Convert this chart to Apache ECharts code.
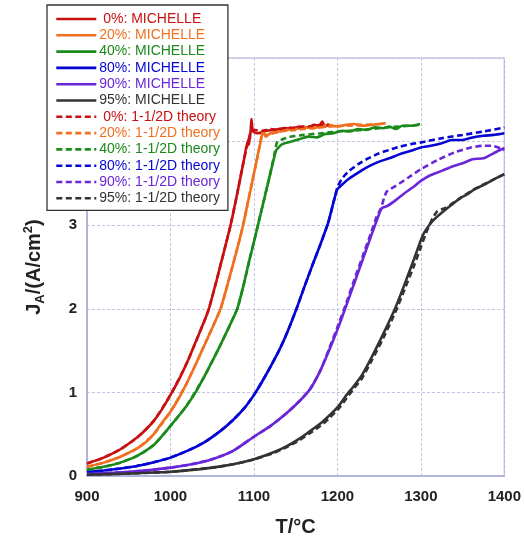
<!DOCTYPE html>
<html>
<head>
<meta charset="utf-8">
<script src="https://cdn.jsdelivr.net/npm/echarts@6/dist/echarts.min.js"></script>
<style>
html,body{margin:0;padding:0;background:#fff;}
#chart{width:524px;height:542px;}
</style>
</head>
<body>
<div id="chart"></div>
<script>
// ---- data ----
const seriesNames = [
  '0%: MICHELLE','20%: MICHELLE','40%: MICHELLE','80%: MICHELLE','90%: MICHELLE','95%: MICHELLE',
  '0%: 1-1/2D theory','20%: 1-1/2D theory','40%: 1-1/2D theory','80%: 1-1/2D theory','90%: 1-1/2D theory','95%: 1-1/2D theory'
];
const seriesColors = ['#c81010','#f07020','#1a8a1a','#0505d5','#6a26d8','#333333'];
const xTicks = [900,1000,1100,1200,1300,1400];

const mic0 = [[900,0.15],[920,0.22],[940,0.32],[960,0.46],[970,0.55],[980,0.66],[990,0.8],[1000,0.97],[1010,1.15],[1020,1.36],[1030,1.6],[1040,1.84],[1046,2.0],[1055,2.33],[1065,2.72],[1072,3.0],[1080,3.38],[1088,3.78],[1093,4.02],[1094,3.96],[1096,4.12],[1097,4.27],[1099,4.12],[1105,4.1],[1115,4.13],[1125,4.14],[1135,4.16],[1145,4.16],[1155,4.18],[1165,4.17],[1172,4.2],[1178,4.19],[1182,4.24],[1185,4.18],[1190,4.2]];
const mic20 = [[900,0.11],[920,0.16],[940,0.23],[960,0.33],[970,0.4],[980,0.5],[990,0.64],[1000,0.77],[1010,0.93],[1020,1.12],[1030,1.33],[1040,1.55],[1050,1.77],[1060,2.0],[1070,2.35],[1080,2.72],[1087,3.0],[1095,3.38],[1103,3.76],[1108,4.0],[1111,4.13],[1114,4.06],[1120,4.1],[1130,4.12],[1140,4.14],[1150,4.15],[1160,4.17],[1170,4.16],[1180,4.18],[1190,4.2],[1200,4.18],[1210,4.2],[1220,4.21],[1230,4.19],[1240,4.2],[1250,4.21],[1258,4.22]];
const mic40 = [[900,0.075],[920,0.11],[940,0.16],[960,0.24],[980,0.37],[990,0.48],[1000,0.6],[1010,0.72],[1020,0.85],[1030,1.0],[1040,1.18],[1050,1.37],[1060,1.57],[1070,1.78],[1080,2.0],[1088,2.3],[1095,2.6],[1100,2.8],[1106,3.05],[1112,3.3],[1118,3.55],[1124,3.8],[1127,3.9],[1134,3.97],[1145,4.0],[1155,4.03],[1165,4.06],[1175,4.05],[1185,4.09],[1195,4.1],[1205,4.13],[1215,4.12],[1225,4.15],[1235,4.14],[1245,4.17],[1255,4.16],[1262,4.18],[1270,4.15],[1278,4.19],[1290,4.19],[1299,4.21]];
const mic80 = [[900,0.045],[920,0.065],[940,0.09],[960,0.12],[980,0.165],[1000,0.22],[1020,0.3],[1040,0.4],[1060,0.54],[1075,0.67],[1090,0.83],[1102,1.0],[1115,1.22],[1130,1.5],[1140,1.72],[1151,2.0],[1160,2.25],[1170,2.52],[1180,2.78],[1189,3.03],[1196,3.3],[1200,3.43],[1205,3.48],[1213,3.55],[1225,3.63],[1237,3.7],[1250,3.76],[1262,3.8],[1275,3.85],[1288,3.89],[1300,3.93],[1312,3.95],[1325,3.98],[1337,4.02],[1350,4.02],[1362,4.05],[1375,4.07],[1387,4.08],[1400,4.1]];
const mic90 = [[900,0.025],[925,0.035],[950,0.05],[975,0.07],[1000,0.1],[1025,0.14],[1050,0.2],[1075,0.3],[1100,0.47],[1120,0.6],[1140,0.76],[1155,0.9],[1168,1.05],[1180,1.27],[1190,1.5],[1200,1.75],[1210,2.02],[1220,2.3],[1230,2.58],[1240,2.86],[1248,3.08],[1253,3.2],[1260,3.23],[1270,3.3],[1280,3.38],[1290,3.45],[1300,3.53],[1312,3.6],[1325,3.65],[1337,3.7],[1350,3.74],[1362,3.79],[1375,3.8],[1387,3.86],[1395,3.9],[1400,3.92]];
const mic95 = [[900,0.015],[950,0.03],[1000,0.05],[1050,0.1],[1075,0.14],[1100,0.2],[1125,0.29],[1140,0.36],[1155,0.45],[1165,0.52],[1180,0.63],[1190,0.72],[1201,0.83],[1211,0.97],[1220,1.08],[1229,1.2],[1241,1.42],[1255,1.7],[1269,2.0],[1280,2.28],[1292,2.6],[1300,2.82],[1304,2.91],[1310,3.0],[1316,3.07],[1325,3.15],[1335,3.23],[1348,3.33],[1356,3.37],[1364,3.43],[1375,3.48],[1388,3.55],[1400,3.61]];

const th0 = [[900,0.15],[920,0.22],[940,0.32],[960,0.46],[980,0.66],[1000,0.97],[1020,1.36],[1040,1.84],[1046,2.0],[1055,2.33],[1065,2.72],[1072,3.0],[1080,3.38],[1088,3.78],[1095,4.08],[1098,4.14],[1110,4.13],[1120,4.15],[1130,4.14],[1140,4.17],[1150,4.16],[1160,4.18],[1170,4.18],[1180,4.2],[1190,4.2]];
const th20 = [[900,0.11],[920,0.16],[940,0.23],[960,0.33],[980,0.5],[1000,0.77],[1020,1.12],[1040,1.55],[1060,2.0],[1070,2.35],[1080,2.72],[1087,3.0],[1095,3.38],[1103,3.76],[1108,4.0],[1110,4.1],[1115,4.08],[1130,4.12],[1150,4.14],[1170,4.16],[1190,4.18],[1210,4.19],[1230,4.2],[1250,4.21]];
const th40 = [[900,0.075],[920,0.11],[940,0.16],[960,0.24],[980,0.37],[1000,0.6],[1020,0.85],[1040,1.18],[1060,1.57],[1080,2.0],[1088,2.3],[1095,2.6],[1100,2.8],[1106,3.05],[1112,3.3],[1118,3.55],[1124,3.82],[1128,4.0],[1135,4.03],[1145,4.06],[1160,4.08],[1180,4.1],[1200,4.12],[1230,4.14],[1260,4.17],[1300,4.2]];
const th80 = [[900,0.045],[920,0.065],[940,0.09],[960,0.12],[980,0.165],[1000,0.22],[1020,0.3],[1040,0.4],[1060,0.54],[1075,0.67],[1090,0.83],[1102,1.0],[1115,1.22],[1130,1.5],[1140,1.72],[1151,2.0],[1160,2.25],[1170,2.52],[1180,2.78],[1189,3.03],[1196,3.3],[1200,3.45],[1205,3.55],[1213,3.64],[1225,3.73],[1237,3.8],[1250,3.86],[1262,3.9],[1275,3.94],[1288,3.97],[1300,3.99],[1325,4.04],[1350,4.08],[1375,4.12],[1400,4.17]];
const th90 = [[900,0.025],[925,0.035],[950,0.05],[975,0.07],[1000,0.1],[1025,0.14],[1050,0.2],[1075,0.3],[1100,0.47],[1120,0.6],[1140,0.76],[1155,0.9],[1168,1.05],[1180,1.27],[1190,1.52],[1200,1.78],[1210,2.05],[1220,2.34],[1230,2.62],[1240,2.9],[1247,3.1],[1252,3.2],[1259,3.4],[1270,3.47],[1285,3.57],[1300,3.67],[1320,3.78],[1340,3.87],[1360,3.93],[1375,3.95],[1385,3.95],[1395,3.92],[1400,3.9]];
const th95 = [[900,0.015],[950,0.03],[1000,0.05],[1050,0.1],[1075,0.14],[1100,0.2],[1125,0.28],[1140,0.35],[1155,0.43],[1165,0.5],[1180,0.6],[1190,0.69],[1201,0.8],[1211,0.93],[1220,1.05],[1229,1.16],[1241,1.38],[1255,1.65],[1269,1.95],[1280,2.22],[1292,2.52],[1300,2.74],[1308,2.95],[1314,3.08],[1320,3.17],[1328,3.2],[1335,3.24],[1348,3.33],[1364,3.43],[1380,3.51],[1400,3.61]];

const allData = [mic0, mic20, mic40, mic80, mic90, mic95, th0, th20, th40, th80, th90, th95];

// ---- chart ----
const chart = echarts.init(document.getElementById('chart'), null, {renderer: 'canvas'});
const FONT = 'Liberation Sans, Arial, sans-serif';

const series = allData.map((d, i) => {
  const dashed = i >= 6;
  const c = seriesColors[i % 6];
  return {
    name: seriesNames[i],
    type: 'line',
    data: d,
    symbol: 'none',
    smooth: 0.2,
    lineStyle: {color: c, width: 2.6, type: dashed ? [6, 3.5] : 'solid'},
    itemStyle: {color: c},
    z: dashed ? 3 : 2,
    animation: false
  };
});

chart.setOption({
  animation: false,
  backgroundColor: '#ffffff',
  grid: {left: 87, right: 17, top: 58, bottom: 64, show: true, borderColor: '#a8acd8', borderWidth: 1.2},
  legend: {
    orient: 'vertical',
    left: 47, top: 5,
    padding: [7, 8, 5, 8],
    itemWidth: 40, itemHeight: 14, itemGap: 2.3,
    backgroundColor: '#ffffff',
    borderColor: '#333333', borderWidth: 1.3,
    itemStyle: {color: 'rgba(0,0,0,0)', borderColor: 'rgba(0,0,0,0)', borderWidth: 0, opacity: 0},
    lineStyle: {width: 2.6},
    textStyle: {fontFamily: FONT, fontSize: 14, lineHeight: 14, padding: [0, 0, 0, -2]},
    formatter: n => n.indexOf('0%') === 0 ? ' ' + n : n,
    data: seriesNames.map((n, i) => ({name: n, textStyle: {color: seriesColors[i % 6]}})),
    z: 10
  },
  xAxis: {
    type: 'value', min: 900, max: 1400, interval: 100,
    name: 'T/°C', nameLocation: 'middle', nameGap: 41,
    nameTextStyle: {fontFamily: FONT, fontSize: 20, fontWeight: 'bold', color: '#222'},
    axisLine: {show: true, lineStyle: {color: '#a8acd8', width: 1.5}},
    axisTick: {show: false},
    axisLabel: {fontFamily: FONT, fontSize: 15, fontWeight: 'bold', color: '#222', margin: 13,
      formatter: v => xTicks.indexOf(v) >= 0 ? String(v) : ''},
    splitLine: {show: true, lineStyle: {color: '#c4c4e2', width: 1, type: [3, 2]}}
  },
  yAxis: {
    type: 'value', min: 0, max: 5, interval: 1,
    name: '{n|J}{sub|A}{n|/(A/cm}{sup|2}{n|)}', nameLocation: 'middle', nameGap: 40, nameRotate: 90,
    nameTextStyle: {
      fontFamily: FONT, fontSize: 20, fontWeight: 'bold', color: '#222',
      rich: {
        n: {fontFamily: FONT, fontSize: 20, fontWeight: 'bold', color: '#222'},
        sub: {fontFamily: FONT, fontSize: 13, fontWeight: 'bold', color: '#222', padding: [12, 0, 0, 0]},
        sup: {fontFamily: FONT, fontSize: 13, fontWeight: 'bold', color: '#222', padding: [0, 0, 12, 0]}
      }
    },
    axisLine: {show: true, lineStyle: {color: '#a8acd8', width: 1.5}},
    axisTick: {show: false},
    axisLabel: {fontFamily: FONT, fontSize: 15, fontWeight: 'bold', color: '#222', margin: 10},
    splitLine: {show: true, lineStyle: {color: '#c4c4e2', width: 1, type: [3, 2]}}
  },
  series: series
});
</script>
</body>
</html>
